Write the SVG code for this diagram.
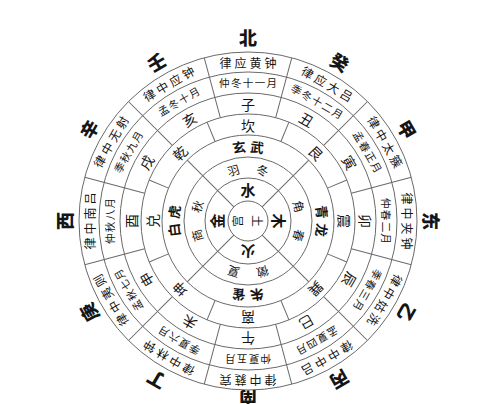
<svg xmlns="http://www.w3.org/2000/svg" xmlns:xlink="http://www.w3.org/1999/xlink" width="500" height="404" viewBox="0 0 500 404">
<defs>
<style>
text{font-family:"Noto Sans CJK SC","Noto Sans CJK TC",sans-serif;fill:#151515;text-anchor:middle;dominant-baseline:central}
.ln{stroke:#6a6a6a;stroke-width:1;fill:none}
.l{font-size:12px}
.m{font-size:10.5px}
.b{font-size:14px}
.g{font-size:14px}
.s{font-size:13.5px;font-weight:bold}
.n{font-size:12px}
.e{font-size:15px;font-weight:bold}
.c{font-size:11.5px}
.o{font-size:18px;font-weight:900}
</style>
<line id="r12" class="ln" x1="248" y1="52" x2="248" y2="114"/>
<line id="r8" class="ln" x1="248" y1="114" x2="248" y2="135"/>
<line id="r4" class="ln" x1="248" y1="135" x2="248" y2="201"/>
</defs>
<rect width="500" height="404" fill="#fff"/>
<g id="connectors">
<circle class="ln" cx="248" cy="221" r="169"/>
<circle class="ln" cx="248" cy="221" r="149"/>
<circle class="ln" cx="248" cy="221" r="128"/>
<circle class="ln" cx="248" cy="221" r="107"/>
<circle class="ln" cx="248" cy="221" r="86"/>
<circle class="ln" cx="248" cy="221" r="64"/>
<circle class="ln" cx="248" cy="221" r="43"/>
<circle class="ln" cx="248" cy="221" r="20"/>
<use xlink:href="#r12" transform="rotate(15 248 221)"/>
<use xlink:href="#r12" transform="rotate(45 248 221)"/>
<use xlink:href="#r12" transform="rotate(75 248 221)"/>
<use xlink:href="#r12" transform="rotate(105 248 221)"/>
<use xlink:href="#r12" transform="rotate(135 248 221)"/>
<use xlink:href="#r12" transform="rotate(165 248 221)"/>
<use xlink:href="#r12" transform="rotate(195 248 221)"/>
<use xlink:href="#r12" transform="rotate(225 248 221)"/>
<use xlink:href="#r12" transform="rotate(255 248 221)"/>
<use xlink:href="#r12" transform="rotate(285 248 221)"/>
<use xlink:href="#r12" transform="rotate(315 248 221)"/>
<use xlink:href="#r12" transform="rotate(345 248 221)"/>
<use xlink:href="#r8" transform="rotate(22.5 248 221)"/>
<use xlink:href="#r8" transform="rotate(67.5 248 221)"/>
<use xlink:href="#r8" transform="rotate(112.5 248 221)"/>
<use xlink:href="#r8" transform="rotate(157.5 248 221)"/>
<use xlink:href="#r8" transform="rotate(202.5 248 221)"/>
<use xlink:href="#r8" transform="rotate(247.5 248 221)"/>
<use xlink:href="#r8" transform="rotate(292.5 248 221)"/>
<use xlink:href="#r8" transform="rotate(337.5 248 221)"/>
<use xlink:href="#r4" transform="rotate(45 248 221)"/>
<use xlink:href="#r4" transform="rotate(135 248 221)"/>
<use xlink:href="#r4" transform="rotate(225 248 221)"/>
<use xlink:href="#r4" transform="rotate(315 248 221)"/>
</g>
<g id="outer" class="o">
<text x="248" y="37">北</text>
<text x="248" y="37" transform="rotate(30 248 221)">癸</text>
<text x="248" y="37" transform="rotate(60 248 221)">甲</text>
<text x="248" y="37" transform="rotate(90 248 221)">东</text>
<text x="248" y="37" transform="rotate(120 248 221)">乙</text>
<text x="248" y="37" transform="rotate(150 248 221)">丙</text>
<text x="248" y="42" transform="rotate(180 248 221)">南</text>
<text x="248" y="37" transform="rotate(210 248 221)">丁</text>
<text x="248" y="37" transform="rotate(240 248 221)">庚</text>
<text x="248" y="37" transform="rotate(270 248 221)">西</text>
<text x="248" y="37" transform="rotate(300 248 221)">辛</text>
<text x="248" y="37" transform="rotate(330 248 221)">壬</text>
</g>
<g id="lv" class="l">
<text x="248" y="62" textLength="57">律应黄钟</text>
<text x="248" y="62" textLength="57" transform="rotate(30 248 221)">律应大吕</text>
<text x="248" y="62" textLength="57" transform="rotate(60 248 221)">律中太簇</text>
<text x="248" y="62" textLength="57" transform="rotate(90 248 221)">律中夹钟</text>
<text x="248" y="62" textLength="57" transform="rotate(120 248 221)">律中姑洗</text>
<text x="248" y="62" textLength="57" transform="rotate(150 248 221)">律中中吕</text>
<text x="248" y="62" textLength="57" transform="rotate(180 248 221)">律中蕤宾</text>
<text x="248" y="62" textLength="57" transform="rotate(210 248 221)">律中林钟</text>
<text x="248" y="62" textLength="57" transform="rotate(240 248 221)">律中夷则</text>
<text x="248" y="62" textLength="57" transform="rotate(270 248 221)">律中南吕</text>
<text x="248" y="62" textLength="57" transform="rotate(300 248 221)">律中无射</text>
<text x="248" y="62" textLength="57" transform="rotate(330 248 221)">律中应钟</text>
</g>
<g id="months" class="m">
<text x="248" y="82.5" textLength="58">仲冬十一月</text>
<text x="248" y="82.5" textLength="58" transform="rotate(30 248 221)">季冬十二月</text>
<text x="248" y="82.5" textLength="46" transform="rotate(60 248 221)">孟春正月</text>
<text x="248" y="82.5" textLength="46" transform="rotate(90 248 221)">仲春二月</text>
<text x="248" y="82.5" textLength="46" transform="rotate(120 248 221)">季春三月</text>
<text x="248" y="82.5" textLength="46" transform="rotate(150 248 221)">孟夏四月</text>
<text x="248" y="82.5" textLength="46" transform="rotate(180 248 221)">仲夏五月</text>
<text x="248" y="82.5" textLength="46" transform="rotate(210 248 221)">季夏六月</text>
<text x="248" y="82.5" textLength="46" transform="rotate(240 248 221)">孟秋七月</text>
<text x="248" y="82.5" textLength="46" transform="rotate(270 248 221)">仲秋八月</text>
<text x="248" y="82.5" textLength="46" transform="rotate(300 248 221)">季秋九月</text>
<text x="248" y="82.5" textLength="46" transform="rotate(330 248 221)">孟冬十月</text>
</g>
<g id="branches" class="b">
<text x="248" y="103.5">子</text>
<text x="248" y="103.5" transform="rotate(30 248 221)">丑</text>
<text x="248" y="103.5" transform="rotate(60 248 221)">寅</text>
<text x="248" y="103.5" transform="rotate(90 248 221)">卯</text>
<text x="248" y="103.5" transform="rotate(120 248 221)">辰</text>
<text x="248" y="103.5" transform="rotate(150 248 221)">巳</text>
<text x="248" y="103.5" transform="rotate(180 248 221)">午</text>
<text x="248" y="103.5" transform="rotate(210 248 221)">未</text>
<text x="248" y="103.5" transform="rotate(240 248 221)">申</text>
<text x="248" y="103.5" transform="rotate(270 248 221)">酉</text>
<text x="248" y="103.5" transform="rotate(300 248 221)">戌</text>
<text x="248" y="103.5" transform="rotate(330 248 221)">亥</text>
</g>
<g id="trigrams" class="g">
<text x="248" y="124.5">坎</text>
<text x="248" y="124.5" transform="rotate(45 248 221)">艮</text>
<text x="248" y="124.5" transform="rotate(90 248 221)">震</text>
<text x="248" y="124.5" transform="rotate(135 248 221)">巽</text>
<text x="248" y="124.5" transform="rotate(180 248 221)">离</text>
<text x="248" y="124.5" transform="rotate(225 248 221)">坤</text>
<text x="248" y="124.5" transform="rotate(270 248 221)">兑</text>
<text x="248" y="124.5" transform="rotate(315 248 221)">乾</text>
</g>
<g id="symbols" class="s">
<text x="248" y="146" transform="rotate(-7 248 221)">玄</text>
<text x="248" y="146" transform="rotate(7 248 221)">武</text>
<text x="248" y="146" transform="rotate(83 248 221)">青</text>
<text x="248" y="146" transform="rotate(97 248 221)">龙</text>
<text x="248" y="146" transform="rotate(173 248 221)">朱</text>
<text x="248" y="146" transform="rotate(187 248 221)">雀</text>
<text x="248" y="146" transform="rotate(263 248 221)">白</text>
<text x="248" y="146" transform="rotate(277 248 221)">虎</text>
</g>
<g id="seasons" class="n">
<text x="248" y="167.5" transform="rotate(-16 248 221)">羽</text>
<text x="248" y="167.5" transform="rotate(16 248 221)">冬</text>
<text x="248" y="167.5" transform="rotate(74 248 221)">角</text>
<text x="248" y="167.5" transform="rotate(106 248 221)">春</text>
<text x="248" y="167.5" transform="rotate(164 248 221)">徵</text>
<text x="248" y="167.5" transform="rotate(196 248 221)">夏</text>
<text x="248" y="167.5" transform="rotate(254 248 221)">商</text>
<text x="248" y="167.5" transform="rotate(286 248 221)">秋</text>
</g>
<g id="elements" class="e">
<text x="248" y="189.5">水</text>
<text x="248" y="189.5" transform="rotate(90 248 221)">木</text>
<text x="248" y="189.5" transform="rotate(180 248 221)">火</text>
<text x="248" y="189.5" transform="rotate(270 248 221)">金</text>
</g>
<g id="center" class="c">
<text x="248" y="210" transform="rotate(270 248 221)">宫</text>
<text x="248" y="211" transform="rotate(90 248 221)">土</text>
</g>
</svg>
